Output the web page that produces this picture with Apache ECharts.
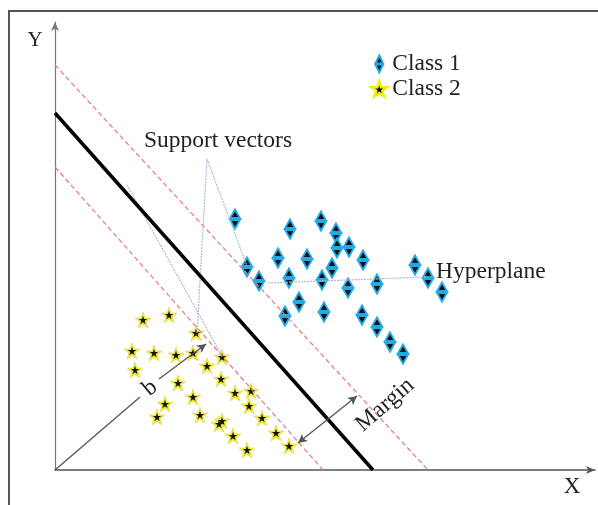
<!DOCTYPE html>
<html>
<head>
<meta charset="utf-8">
<script src="https://cdn.jsdelivr.net/npm/echarts@6/dist/echarts.min.js"></script>
<style>html,body{margin:0;padding:0;background:#fff}#c{width:598px;height:505px}</style>
</head>
<body>
<div id="c"></div>
<script>
// Class 1 (diamonds)
var class1X = [180,235,266,281,282,294,308,223,252,277,192,204,234,267,293,322,360,373,387,244,230,269,307,322,335,348];
var class1Y = [251,241,249,237,222,223,210,212,211,202,203,189,192,190,182,186,205,192,178,168,154,158,155,143,128,116];
// Class 2 (stars)
var class2X = [88,114,141,77,99,121,138,80,167,152,123,166,138,180,196,110,194,145,102,167,164,207,178,221,192,234];
var class2Y = [150,155,137,119,117,115,117,100,113,104,87,91,73,77,79,66,64,55,53,49,46,52,34,37,20,24];
// separating lines (endpoints on the axes)
var hyperplane = [[0,357],[318,0]];
var marginUpper = [[0,405],[373,0]];
var marginLower = [[0,303],[268,0]];
// support-vector / hyperplane pointer lines
var pointerA = [[72,285],[167,114]];
var pointerB = [[142,137],[152,311],[192,204]];
var pointerH = [[213,187],[372,193]];
// arrows
var arrowB1 = [[0,0],[85,73]];
var arrowB2 = [[104,91],[151,126]];
var arrowMargin = [[243,27],[302,74]];

function pairs(xs, ys){ return xs.map(function(x,i){return [x, ys[i]];}); }

var serif = "'Liberation Serif','Times New Roman',serif";
var diamondPath = 'path://M5 0 L9.5 9.3 L0.5 9.3 Z M0.5 10.7 L9.5 10.7 L5 20 Z';
var starPath = 'path://M10 0 L12.245 6.91 L19.511 6.91 L13.633 11.18 L15.878 18.09 L10 13.82 L4.122 18.09 L6.367 11.18 L0.489 6.91 L7.755 6.91 Z';

var chart = echarts.init(document.getElementById('c'));
var redDash = {color:'#ee7777', width:1.2, type:[5,3]};
var blueDot = {color:'#aabbdd', width:1.2, type:[2,1]};
var arrowStyle = {color:'#555', width:1.3, type:'solid'};
var FS = 23.5;

chart.setOption({
  animation:false,
  backgroundColor:'#fff',
  grid:{left:55, right:3, top:22, bottom:35},
  xAxis:{type:'value', min:0, max:540, splitLine:{show:false}, axisTick:{show:false}, axisLabel:{show:false},
    axisLine:{show:true, symbol:['none','arrow'], symbolSize:[6,9], lineStyle:{color:'#555', width:1.5}}},
  yAxis:{type:'value', min:0, max:448, splitLine:{show:false}, axisTick:{show:false}, axisLabel:{show:false},
    axisLine:{show:true, symbol:['none','arrow'], symbolSize:[6,9], lineStyle:{color:'#777', width:1.2}}},
  legend:{orient:'vertical', left:370, top:52, itemGap:1, itemWidth:16, itemHeight:17, padding:0,
    data:['Class 1', {name:'Class 2', itemStyle:{color:'#111', borderColor:'#f2ee14', borderWidth:2.5}}],
    textStyle:{fontFamily:serif, fontSize:FS, color:'#222'}},
  series:[
    {type:'line', name:'mu', data:marginUpper, symbol:'none', lineStyle:redDash, silent:true},
    {type:'line', name:'ml', data:marginLower, symbol:'none', lineStyle:redDash, silent:true},
    {type:'line', name:'pa', data:pointerA, symbol:'none', lineStyle:blueDot, silent:true},
    {type:'line', name:'pb', data:pointerB, symbol:'none', lineStyle:blueDot, silent:true},
    {type:'line', name:'ph', data:pointerH, symbol:'none', lineStyle:blueDot, silent:true},
    {type:'line', name:'hp', data:hyperplane, symbol:'none', lineStyle:{color:'#000', width:3.5}, silent:true,
      markLine:{silent:true, symbolSize:[7,9], label:{show:false}, lineStyle:arrowStyle,
        data:[
          [{coord:arrowB1[0], symbol:'none'},{coord:arrowB1[1], symbol:'none'}],
          [{coord:arrowB2[0], symbol:'none'},{coord:arrowB2[1], symbol:'arrow'}],
          [{coord:arrowMargin[0], symbol:'arrow'},{coord:arrowMargin[1], symbol:'arrow'}]
        ]}},
    {type:'scatter', name:'Class 1', data:pairs(class1X,class1Y), symbol:diamondPath, symbolSize:[10,19],
      itemStyle:{color:'#111', borderColor:'#22aae6', borderWidth:2, opacity:1}},
    {type:'scatter', name:'Class 2', data:pairs(class2X,class2Y), symbol:starPath, symbolSize:16,
      itemStyle:{color:'#f2ee14', borderColor:'#e6e070', borderWidth:1, opacity:1}},
    {type:'scatter', name:'Class 2 core', data:pairs(class2X,class2Y), symbol:starPath, symbolSize:8.5,
      itemStyle:{color:'#111', opacity:1}, silent:true}
  ],
  graphic:[
    {type:'line', shape:{x1:8,y1:11,x2:598,y2:11}, style:{stroke:'#555', lineWidth:2}},
    {type:'line', shape:{x1:9,y1:11,x2:9,y2:505}, style:{stroke:'#555', lineWidth:2}},
    {type:'text', x:35, y:40, style:{text:'Y', font:'21px '+serif, fill:'#222', textAlign:'center', textVerticalAlign:'middle'}},
    {type:'text', x:572, y:487, style:{text:'X', font:'23px '+serif, fill:'#222', textAlign:'center', textVerticalAlign:'middle'}},
    {type:'text', x:218, y:141, style:{text:'Support vectors', font:FS+'px '+serif, fill:'#222', textAlign:'center', textVerticalAlign:'middle'}},
    {type:'text', x:436, y:272, style:{text:'Hyperplane', font:FS+'px '+serif, fill:'#222', textAlign:'left', textVerticalAlign:'middle'}},
    {type:'text', x:385, y:405, rotation:41*Math.PI/180, style:{text:'Margin', font:FS+'px '+serif, fill:'#222', textAlign:'center', textVerticalAlign:'middle'}},
    {type:'text', x:150, y:388, rotation:40*Math.PI/180, style:{text:'b', font:FS+'px '+serif, fill:'#222', textAlign:'center', textVerticalAlign:'middle'}}
  ]
});
</script>
</body>
</html>
